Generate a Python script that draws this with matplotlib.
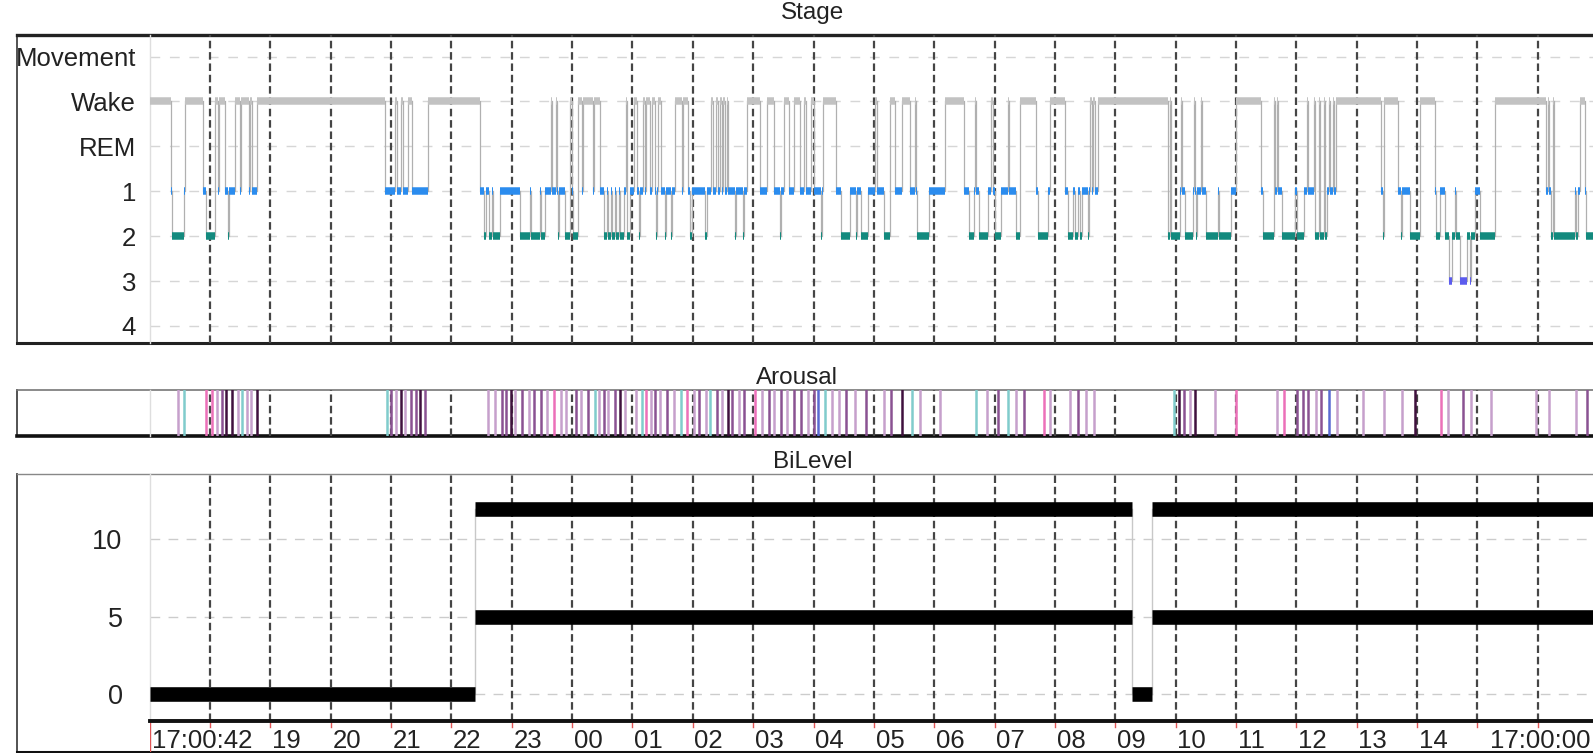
import matplotlib
matplotlib.use('Agg')
import matplotlib.pyplot as plt

plt.rcParams['font.family'] = ['Liberation Sans', 'DejaVu Sans']

# ---------------- data (minutes after 17:00:00) ----------------
stage_onset_min = [
    0.7, 21, 22, 34, 35, 53, 56, 65, 68, 69, 75, 78, 79, 85, 90, 91, 99, 100, 102, 107,
    234, 244, 246, 250, 252, 257, 261, 277,
    328, 332, 334, 337, 340, 341, 348, 368, 378, 379, 388, 389, 393, 399, 400, 404, 405, 406, 407,
    413, 418, 420, 421, 426, 430, 431, 441, 442, 448, 452, 455, 456, 459, 460, 463, 464, 467, 468,
    472, 474, 475, 478, 482, 485, 487, 488, 490, 492, 493, 497, 499, 502, 503, 504, 505, 508, 512,
    513, 518, 519, 522, 529, 530, 535, 537, 539, 552, 554, 558, 560, 563, 565, 567, 569, 570, 572,
    574, 575, 582, 583, 590, 591, 594, 607, 614, 621, 627, 628, 631, 636, 641, 647, 651, 653, 658,
    660, 667, 668, 669, 682, 687, 696, 702, 703, 707, 714, 721, 723, 730, 736, 741, 748, 756, 761,
    762, 763, 775, 791, 810, 815, 820, 821, 822, 825, 833, 836, 838, 840, 846, 853, 854, 861, 865,
    881, 883, 893, 895, 910, 913, 918, 920, 923, 925, 927, 933, 934, 935, 937, 938, 940, 943,
    1012, 1014, 1015, 1024, 1025, 1026, 1029, 1037, 1038, 1039, 1040, 1041, 1045, 1046, 1050,
    1062, 1063, 1075, 1080, 1105, 1107, 1118, 1119, 1121, 1122, 1126, 1139, 1141, 1148, 1151,
    1152, 1158, 1159, 1163, 1164, 1168, 1169, 1171, 1173, 1174, 1176, 1177, 1179, 1224, 1226,
    1227, 1241, 1244, 1245, 1253, 1263, 1278, 1279, 1283, 1288, 1292, 1295, 1298, 1299, 1303,
    1310, 1313, 1314, 1318, 1323, 1338, 1388, 1390, 1391, 1393, 1395, 1396, 1417, 1418, 1420,
    1422, 1427, 1428]
stage_code = [
    'W', '1', '2', '1', 'W', '1', '2', 'W', '1', 'W', '1', '2', '1', 'W', '1', 'W', '1', 'W', '1', 'W',
    '1', 'W', '1', 'W', '1', 'W', '1', 'W',
    '1', '2', '1', '2', '1', '2', '1', '2', '1', '2', '1', '2', '1', 'W', '1', 'W', '1', '2', '1',
    '2', 'W', '1', '2', 'W', '1', 'W', '1', 'W', '1', '2', '1', '2', '1', '2', '1', '2', '1', '2',
    '1', 'W', '2', '1', 'W', '1', '2', '1', 'W', '1', 'W', '1', 'W', '1', '2', '1', 'W', '1', '2',
    '1', '2', '1', 'W', '1', 'W', '1', '2', '1', '2', '1', 'W', '1', 'W', '1', 'W', '1', 'W', '1',
    'W', '1', '2', '1', '2', '1', 'W', '1', 'W', '1', '2', '1', 'W', '1', 'W', '1', 'W', '1', 'W',
    '1', '2', '1', 'W', '1', '2', '1', '2', '1', '2', '1', 'W', '1', '2', 'W', '1', 'W', '1', 'W',
    '1', '2', '1', 'W', '1', '2', '1', 'W', '1', '2', '1', 'W', '1', '2', '1', 'W', '1', '2', 'W',
    '1', '2', '1', 'W', '1', '2', '1', '2', '1', '2', '1', '2', '1', 'W', '1', 'W', '1', 'W',
    '2', 'W', '2', '1', 'W', '1', '2', '1', 'W', '1', '2', '1', 'W', '1', '2',
    '1', '2', '1', 'W', '1', '2', 'W', '1', 'W', '1', '2', '1', '2', '1', 'W',
    '1', 'W', '2', 'W', '2', 'W', '2', '1', 'W', '1', 'W', '1', 'W', '1', '2',
    'W', '1', '2', '1', '2', 'W', '1', '2', '1', '2', '3', '2', '1', '2', '3',
    '2', '3', '2', '1', '2', 'W', '1', 'W', '1', '2', 'W', '2', '1', '2', '1',
    'W', '1', '2']
record_end_min = 1440

stage_levels = ['4', '3', '2', '1', 'REM', 'Wake', 'Movement']

arousal_min = [
    28, 34, 56, 62, 67, 72, 76, 82, 88, 92, 97, 101, 107,
    236, 240, 245, 250, 254, 260, 265, 269, 274,
    336, 343, 350, 354, 359, 363, 370, 377, 382, 389, 395, 402, 409, 414, 424, 429, 436, 443,
    447, 452, 456, 463, 468, 473, 484, 489, 493, 498, 502, 507, 514, 521, 528, 534, 541, 546,
    553, 557, 564, 569, 575, 579, 586, 591, 602, 609, 616, 621, 628, 634, 641, 648, 655, 660,
    664, 671, 678, 685, 692, 701,
    712, 730, 737, 748, 758, 766, 786, 822, 832, 843, 853, 861, 869, 889, 895, 915, 923, 931,
    939, 1018, 1023, 1028, 1034, 1039, 1059, 1080, 1121, 1128, 1141, 1147, 1152, 1160, 1165,
    1173, 1180, 1206, 1227, 1245, 1258, 1284, 1291, 1306, 1314, 1334, 1378, 1391, 1418, 1429]
arousal_type = [
    'L', 'T', 'K', 'K', 'L', 'P', 'D', 'D', 'L', 'T', 'L', 'L', 'D',
    'T', 'P', 'L', 'D', 'L', 'P', 'P', 'D', 'P',
    'L', 'L', 'P', 'P', 'D', 'L', 'P', 'L', 'P', 'P', 'L', 'K', 'L', 'L', 'P', 'L', 'P', 'T',
    'L', 'P', 'L', 'P', 'D', 'L', 'L', 'T', 'K', 'L', 'P', 'L', 'P', 'L', 'T', 'K', 'L', 'P',
    'L', 'T', 'P', 'L', 'D', 'P', 'L', 'P', 'K', 'L', 'P', 'L', 'P', 'L', 'P', 'P', 'L', 'P',
    'B', 'T', 'L', 'L', 'P', 'L',
    'P', 'L', 'P', 'D', 'T', 'L', 'L', 'T', 'L', 'P', 'T', 'L', 'P', 'K', 'L', 'L', 'P', 'L',
    'L', 'T', 'D', 'P', 'L', 'D', 'L', 'K', 'L', 'K', 'P', 'P', 'P', 'L', 'P',
    'B', 'L', 'L', 'L', 'L', 'D', 'K', 'L', 'P', 'L', 'L', 'L', 'L', 'L', 'P']

bilevel_start_min = [0.7, 323, 977, 997]
bilevel_end_min = [323, 977, 997, 1440]
bilevel_ipap = [0, 12, 0, 12]
bilevel_epap = [0, 5, 0, 5]
bilevel_ticks = [0, 5, 10]

time_tick_min = [0.7, 120, 180, 240, 300, 360, 420, 480, 540, 600, 660, 720, 780, 840,
                 900, 960, 1020, 1080, 1140, 1200, 1260, 1440]
time_tick_labels = ['17:00:42', '19', '20', '21', '22', '23', '00', '01', '02', '03', '04',
                    '05', '06', '07', '08', '09', '10', '11', '12', '13', '14', '17:00:00']
hour_lines_min = list(range(60, 1440, 60))

# ---------------- styling ----------------
stage_color = {'W': '#c2c2c2', '1': '#2b8cee', '2': '#138a7e', '3': '#5c5cee'}
stage_y = {'3': 1, '2': 2, '1': 3, 'W': 5}
arousal_color = {'L': '#c6a0cc', 'P': '#8a5292', 'D': '#3f103d', 'K': '#ec70b9',
                 'T': '#80cccc', 'B': '#5a6ad2'}

W, H = 1593, 753
fig = plt.figure(figsize=(W / 100, H / 100), dpi=100)


def rect(l, t, r, b):
    return [l / W, 1 - b / H, (r - l) / W, (b - t) / H]


X0, X1 = 149.65, 1598.05  # pixel span of the time range 0..1440 min


def frame_axes(top, bottom, top_lw, top_c, bot_lw, bot_c):
    fa = fig.add_axes(rect(17, top, 1615, bottom))
    fa.set_xticks([]); fa.set_yticks([])
    fa.spines['right'].set_visible(False)
    fa.spines['top'].set_linewidth(top_lw); fa.spines['top'].set_color(top_c)
    fa.spines['bottom'].set_linewidth(bot_lw); fa.spines['bottom'].set_color(bot_c)
    fa.spines['left'].set_linewidth(1.3); fa.spines['left'].set_color('#444444')
    return fa


def data_axes(top, bottom):
    da = fig.add_axes(rect(X0, top, X1, bottom))
    da.set_facecolor('none')
    for s in ('top', 'right', 'bottom'):
        da.spines[s].set_visible(False)
    da.spines['left'].set_color('#dedede')
    da.spines['left'].set_linewidth(1.0)
    da.set_xlim(0, record_end_min)
    da.set_xticks([])
    da.tick_params(axis='y', length=0)
    return da


def hour_lines(da):
    for m in hour_lines_min:
        da.axvline(m, color='#454545', lw=1.6, ls=(0, (3.4, 1.7)), zorder=1)


# ---------------- Stage ----------------
frame_axes(35, 343, 2.4, '#222222', 2.2, '#222222')
ax1 = data_axes(35, 343)
ax1.set_ylim(-0.38, 6.48)
ax1.set_yticks(range(7))
ax1.set_yticklabels(stage_levels, fontsize=18.5, color='#222222')
ax1.tick_params(axis='y', pad=9.8)
for v in range(7):
    ax1.axhline(v, color='#d6d6d6', lw=1.0, ls=(0, (7, 7)), zorder=0.5)
hour_lines(ax1)

ends = stage_onset_min[1:] + [record_end_min]
for i, (t0, t1, c) in enumerate(zip(stage_onset_min, ends, stage_code)):
    if i > 0:
        y_prev = stage_y[stage_code[i - 1]]
        ax1.plot([t0, t0], [y_prev, stage_y[c]], color='#b0b0b0', lw=0.9, zorder=2)
for t0, t1, c in zip(stage_onset_min, ends, stage_code):
    ax1.plot([t0, t1], [stage_y[c], stage_y[c]], color=stage_color[c], lw=5.4,
             solid_capstyle='butt', zorder=3)

fig.text(813 / W, 1 - 13 / H, 'Stage', ha='center', va='center', fontsize=17.5, color='#222222')

# ---------------- Arousal ----------------
frame_axes(390, 436, 1.2, '#777777', 2.6, '#111111')
ax2 = data_axes(390, 436)
ax2.set_ylim(0, 1)
ax2.set_yticks([])
hour_lines(ax2)
for t, k in zip(arousal_min, arousal_type):
    ax2.axvline(t, color=arousal_color[k], lw=1.8, zorder=2)
fig.text(797 / W, 1 - 378 / H, 'Arousal', ha='center', va='center', fontsize=17.5, color='#222222')

# ---------------- BiLevel ----------------
frame_axes(474, 752, 1.0, '#888888', 2.2, '#111111')
ax3 = data_axes(474, 721)
ax3.set_ylim(-1.75, 14.24)
ax3.set_yticks(bilevel_ticks)
ax3.set_yticklabels([str(v) for v in bilevel_ticks], fontsize=19.5, color='#222222')
ax3.tick_params(axis='y', pad=19.5)
for v in bilevel_ticks:
    ax3.axhline(v, color='#cccccc', lw=1.0, ls=(0, (7, 6)), zorder=0.5)
hour_lines(ax3)
for i, (t0, t1, ip, ep) in enumerate(zip(bilevel_start_min, bilevel_end_min, bilevel_ipap, bilevel_epap)):
    if i > 0:
        lo = min(bilevel_ipap[i - 1], ip)
        hi = max(bilevel_ipap[i - 1], ip)
        ax3.plot([t0, t0], [lo, hi], color='#c8c8c8', lw=1.0, zorder=2)
    for v in sorted(set([ip, ep])):
        ax3.plot([t0, t1], [v, v], color='black', lw=10.5, solid_capstyle='butt', zorder=3)
fig.text(813 / W, 1 - 462 / H, 'BiLevel', ha='center', va='center', fontsize=17.5, color='#222222')

# ---------------- time axis ----------------
ax4 = fig.add_axes(rect(X0, 721, X1, 752))
ax4.set_facecolor('none')
ax4.set_xlim(0, record_end_min)
ax4.set_ylim(0, 1)
ax4.set_xticks([]); ax4.set_yticks([])
for s in ('right', 'bottom', 'left'):
    ax4.spines[s].set_visible(False)
ax4.spines['top'].set_linewidth(2.8)
ax4.spines['top'].set_color('#111111')
for m in hour_lines_min:
    ax4.plot([m, m], [1, 0.8], color='#e05555', lw=1.0, zorder=2)
ax4.plot([time_tick_min[0]] * 2, [1, 0], color='#e05555', lw=1.0, zorder=2)

for m, lab in zip(time_tick_min, time_tick_labels):
    last = m == time_tick_min[-1]
    ax4.annotate(lab, (m, 0.36), xytext=(-5.5 if last else 1.2, 0), textcoords='offset points',
                 ha='right' if last else 'left', va='center', fontsize=18.5,
                 color='#222222', annotation_clip=False)

fig.savefig('out.png', dpi=100)
